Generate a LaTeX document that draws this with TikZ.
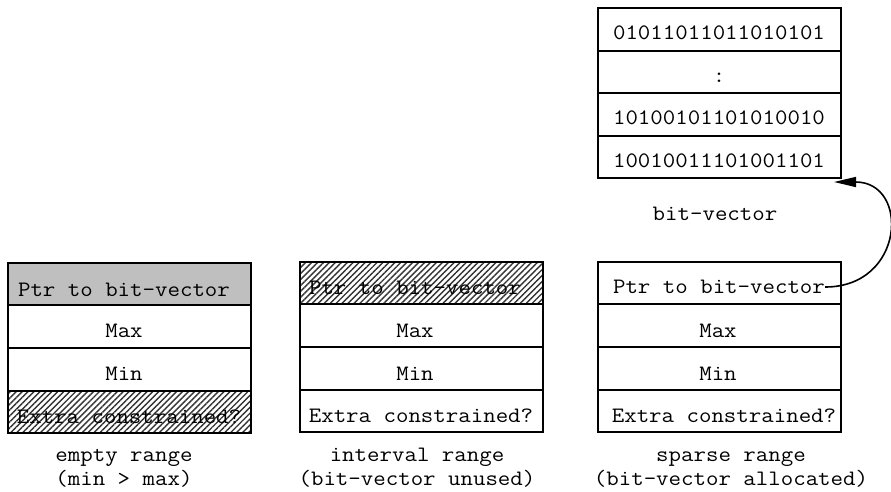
\documentclass[tikz,border=0pt]{standalone}
\usepackage{fontspec}
\newfontfamily\courlike[FakeStretch=1.1]{Latin Modern Mono}
\usetikzlibrary{arrows.meta,patterns.meta}
\tikzset{
  cell/.style={draw=black,line width=1.6pt},
  shaded/.style={cell,fill=black!25},
  hatched/.style={cell,pattern={Lines[angle=45,distance=4.2pt,line width=1.4pt]},pattern color=black!80},
  lbl/.style={anchor=base,inner sep=0pt,font=\courlike\fontsize{22}{25}\selectfont},
  captxt/.style={anchor=base,inner sep=0pt,align=center,font=\courlike\fontsize{22}{24}\selectfont},
  ptr/.style={line width=1.6pt,-{Triangle[length=22pt,width=10pt]}}
}
\begin{document}
\begin{tikzpicture}[x=1pt,y=-1pt]
\useasboundingbox (0,0) rectangle (891,491);
% ---- bit-vector box
\path[cell] (598,8) rectangle (841,51);
\path[cell] (598,51) rectangle (841,93);
\path[cell] (598,93) rectangle (841,136);
\path[cell] (598,136) rectangle (841,178);
\node[lbl] (bv1) at (719,39.5) {01011011011010101};
\node[lbl] (bv2) at (719,82) {:};
\node[lbl] (bv3) at (719,124.5) {10100101101010010};
\node[lbl] (bv4) at (719,167) {10010011101001101};
\coordinate (bvcorner) at (834,182);
\node[captxt] (bvcap) at (715,220) {bit-vector};
% ---- empty range
\path[shaded] (8,263) rectangle (251,305);
\path[cell] (8,305) rectangle (251,348);
\path[cell] (8,348) rectangle (251,391);
\path[hatched] (8,391) rectangle (251,433);
\node[lbl] (a1) at (124,296) {Ptr to bit-vector};
\node[lbl] (a2) at (124,337) {Max};
\node[lbl] (a3) at (124,380) {Min};
\node[lbl] (a4) at (129,423) {Extra constrained?};
\node[captxt] (acap) at (124,485) {empty range\\(min > max)};
% ---- interval range
\path[hatched] (300,262) rectangle (543,304);
\path[cell] (300,304) rectangle (543,347);
\path[cell] (300,347) rectangle (543,390);
\path[cell] (300,390) rectangle (543,432);
\node[lbl] (b1) at (415,294) {Ptr to bit-vector};
\node[lbl] (b2) at (415,337) {Max};
\node[lbl] (b3) at (415,380) {Min};
\node[lbl] (b4) at (421,422) {Extra constrained?};
\node[captxt] (bcap) at (417,485) {interval range\\(bit-vector unused)};
% ---- sparse range
\path[cell] (598,262) rectangle (841,304);
\path[cell] (598,304) rectangle (841,347);
\path[cell] (598,347) rectangle (841,390);
\path[cell] (598,390) rectangle (841,432);
\node[lbl] (c1) at (719,293) {Ptr to bit-vector};
\node[lbl] (c2) at (718,337) {Max};
\node[lbl] (c3) at (718,380) {Min};
\node[lbl] (c4) at (724,422) {Extra constrained?};
\node[captxt] (ccap) at (731,485) {sparse range\\(bit-vector allocated)};
% ---- pointer
\draw[ptr] (c1.east |- 0,287) .. controls (905,287) and (910,182) .. (bvcorner);
\end{tikzpicture}
\end{document}
